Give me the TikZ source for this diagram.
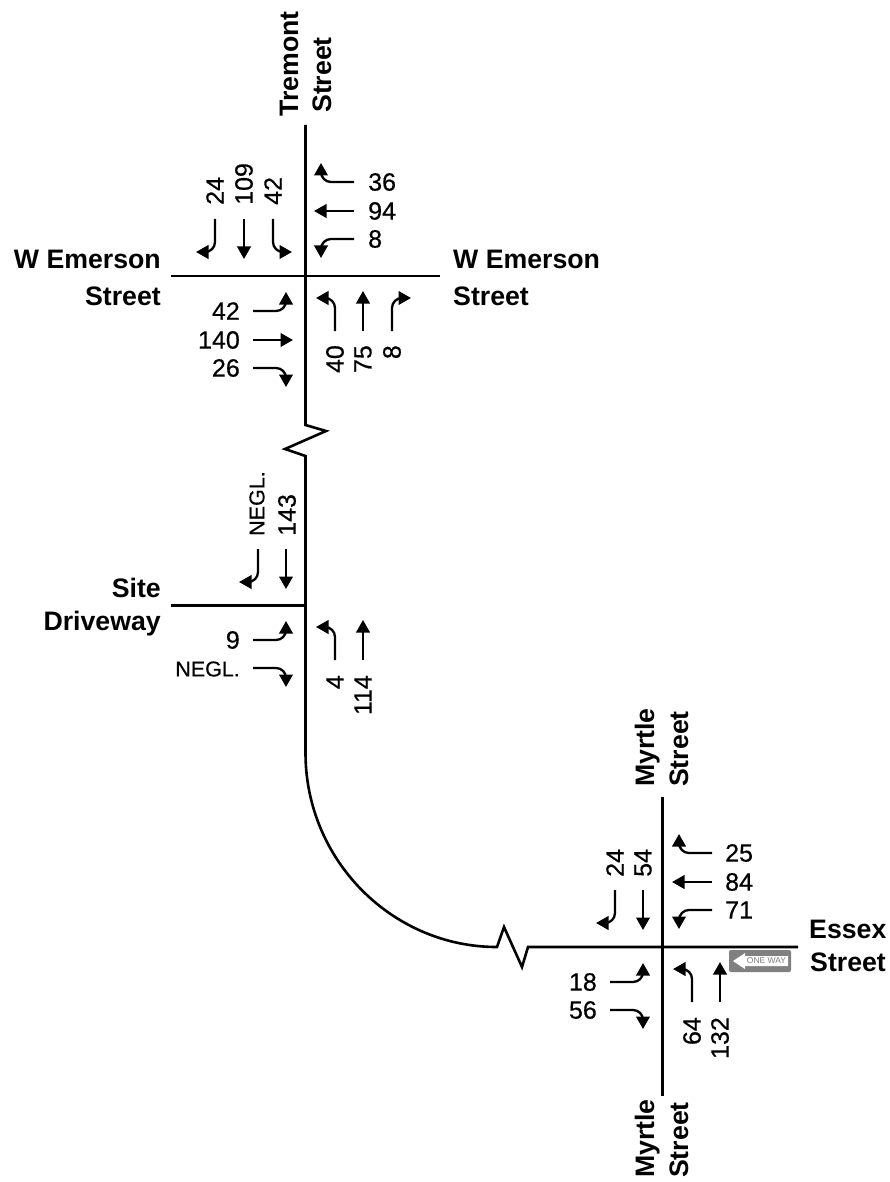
\documentclass[tikz,border=0pt]{standalone}
\usepackage{fontspec}
\setmainfont{Liberation Sans}
\newfontfamily\volfont[FakeBold=0.5]{Liberation Sans}
\usetikzlibrary{arrows.meta, positioning}
\definecolor{signgray}{RGB}{128, 128, 128}
\tikzset{
  roadline/.style={line width=2.6pt, black},
  mvtline/.style={line width=2.3pt, black, rounded corners=10pt, -{Triangle[length=12.5pt, width=13.5pt]}},
  vol/.style={font=\fontsize{25}{28}\volfont\selectfont, inner sep=0pt},
  negl/.style={font=\fontsize{21.5}{24}\volfont\selectfont, inner sep=0pt},
  street/.style={font=\fontsize{26.7}{32}\selectfont\bfseries, inner sep=0pt},
  pics/lturn/.style={code={\draw[mvtline] (0,0) -- (0,-33) -- (-19,-33);}},
  pics/rturn/.style={code={\draw[mvtline] (0,0) -- (0,-33) -- (19,-33);}},
  pics/thru/.style={code={\draw[mvtline, rounded corners=0pt] (0,0) -- (0,-40);}}
}
\begin{document}
\begin{tikzpicture}[x=1pt, y=-1pt]
  \useasboundingbox (0,0) rectangle (889,1182);

  %% ROADS
  \coordinate (tremontN) at (305.5,125);
  \coordinate (emersonW) at (171,276);
  \coordinate (emersonE) at (440,276);
  \coordinate (emersonC) at (305.5,276);
  \coordinate (siteW) at (171,605.5);
  \coordinate (siteC) at (305.5,605.5);
  \coordinate (curveTop) at (305.5,753);
  \coordinate (curveEnd) at (497,947);
  \coordinate (myrtleN) at (662.5,797);
  \coordinate (myrtleS) at (662.5,1096);
  \coordinate (essexE) at (798,947);
  \draw[roadline] (tremontN) -- (305.5,425) -- (326,431) -- (285,449) -- (305.5,456) -- (curveTop)
    .. controls (305.5,860) and (392,947) .. (curveEnd)
    -- (504,927) -- (522,967) -- (528,947) -- (essexE);
  \draw[roadline] (emersonW) -- (emersonE);
  \draw[roadline] (siteW) -- (siteC);
  \draw[roadline] (myrtleN) -- (myrtleS);

  %% Turning movements, x/y/heading
  \foreach \px/\py/\rot in {335/331/0, 335/660/0, 692/1002/0, 354/239/90, 712/910/90,
      253/311/-90, 253/640/-90, 610/982/-90, 273/219/180}
    \pic[rotate=\rot] at (\px,\py) {lturn};
  \foreach \px/\py/\rot in {392/331/0, 354/182/90, 712/853/90, 253/368/-90, 253/668/-90,
      610/1010/-90, 215/219/180, 258/549/180, 615/890/180}
    \pic[rotate=\rot] at (\px,\py) {rturn};
  \foreach \px/\py/\rot in {363/331/0, 363/660/0, 720/1002/0, 354/211/90, 712/882/90,
      253/340/-90, 244/219/180, 286/549/180, 643/890/180}
    \pic[rotate=\rot] at (\px,\py) {thru};

  %% W EMERSON STREET
  \foreach \px/\lab in {215/24, 244/109, 273/42}
    \node[vol, rotate=90, anchor=west] (emS\lab) at (\px,205) {\lab};
  \foreach \py/\lab in {182/36, 211/94, 239/8}
    \node[vol, anchor=west] (emW\lab) at (368,\py) {\lab};
  \foreach \py/\lab in {311/42, 340/140, 368/26}
    \node[vol, anchor=east] (emE\lab) at (240,\py) {\lab};
  \foreach \px/\lab in {335/40, 363/75, 392/8}
    \node[vol, rotate=90, anchor=east] (emN\lab) at (\px,345) {\lab};

  %% SITE DRIVEWAY
  \node[negl, rotate=90, anchor=west] (siteSL) at (257,536) {NEGL.};
  \node[vol, rotate=90, anchor=west] (siteST) at (287,536) {143};
  \node[vol, anchor=east] (siteEL) at (240,640) {9};
  \node[negl, anchor=east] (siteER) at (240,669) {NEGL.};
  \node[vol, rotate=90, anchor=east] (siteNL) at (335,675) {4};
  \node[vol, rotate=90, anchor=east] (siteNT) at (363,675) {114};

  %% MYRTLE STREET
  \foreach \px/\lab in {615/24, 643/54}
    \node[vol, rotate=90, anchor=west] (myS\lab) at (\px,877) {\lab};
  \foreach \py/\lab in {853/25, 882/84, 910/71}
    \node[vol, anchor=west] (myW\lab) at (725,\py) {\lab};
  \foreach \py/\lab in {982/18, 1010/56}
    \node[vol, anchor=east] (myE\lab) at (597,\py) {\lab};
  \foreach \px/\lab in {692/64, 720/132}
    \node[vol, rotate=90, anchor=east] (myN\lab) at (\px,1017) {\lab};

  %% One way sign
  \fill[signgray, rounded corners=2pt] (729,950) rectangle (791,972);
  \fill[white] (733,961) -- (745,953) -- (745,956) -- (788,956) -- (788,966) -- (745,966) -- (745,969) -- cycle;
  \node[font=\fontsize{8.5}{9}\selectfont, signgray, inner sep=0pt] (oneway) at (766.5,961) {ONE WAY};

  %% Street names
  \node[street, rotate=90, anchor=base west] (tremont) at (298,117) {Tremont};
  \node[street, rotate=90, anchor=base west] (tremontB) at (331,113) {Street};
  \node[street, anchor=base east] (emL) at (161,269) {W Emerson};
  \node[street, anchor=base east] (emLB) at (161,305) {Street};
  \node[street, anchor=base west] (emR) at (453,269) {W Emerson};
  \node[street, anchor=base west] (emRB) at (453,305) {Street};
  \node[street, anchor=base east] (site) at (161,597) {Site};
  \node[street, anchor=base east] (siteB) at (161,630) {Driveway};
  \node[street, rotate=90, anchor=base west] (myN) at (654,787) {Myrtle};
  \node[street, rotate=90, anchor=base west] (myNB) at (688,787) {Street};
  \node[street, rotate=90, anchor=base west] (myS) at (654,1178) {Myrtle};
  \node[street, rotate=90, anchor=base west] (mySB) at (688,1178) {Street};
  \node[street, anchor=base west] (essex) at (809,938) {Essex};
  \node[street, anchor=base west] (essexB) at (810,971) {Street};
\end{tikzpicture}
\end{document}
